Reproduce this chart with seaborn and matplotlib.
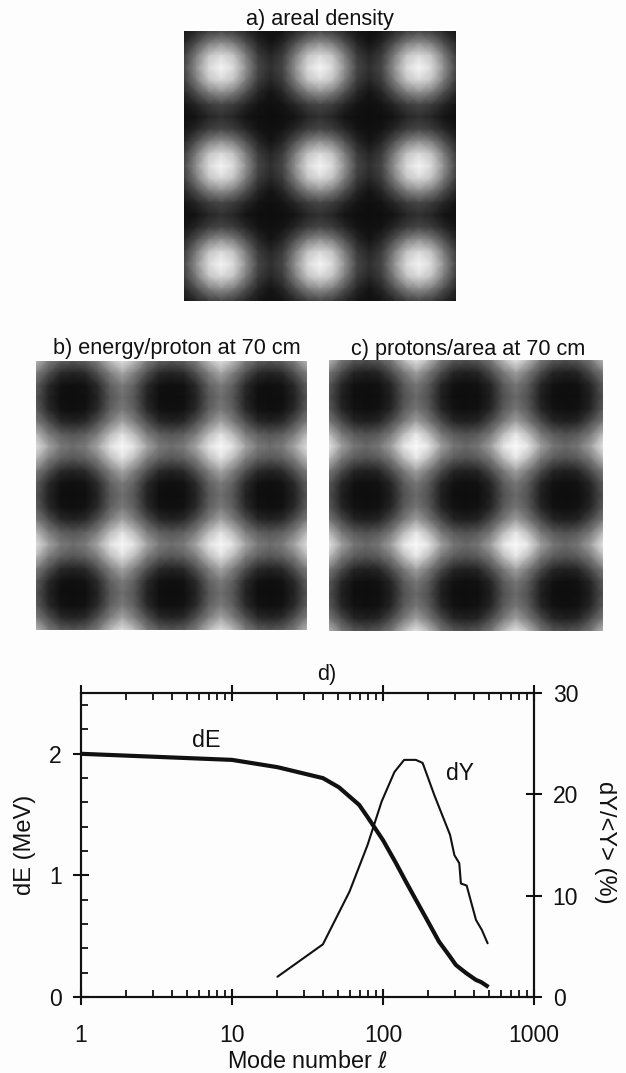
import matplotlib
matplotlib.use("Agg")
import matplotlib.pyplot as plt
from matplotlib.ticker import LogLocator, MultipleLocator, NullFormatter, FixedLocator, FixedFormatter
import seaborn as sns
import pandas as pd

# Panel a: grey level read along rows, by distance from a row of bright spots
a_r0 = [70,145,218,245,218,145,70,48,70,145,218,245,218,145,70,48,70,145,218,245,218,145,70]
a_r1 = [60,125,195,218,195,125,60,38,60,125,195,218,195,125,60,38,60,125,195,218,195,125,60]
a_r2 = [38,80,125,145,125,80,38,20,38,80,125,145,125,80,38,20,38,80,125,145,125,80,38]
a_r3 = [20,38,60,70,60,38,20,15,20,38,60,70,60,38,20,15,20,38,60,70,60,38,20]
a_r4 = [15,20,38,48,38,20,15,14,15,20,38,48,38,20,15,14,15,20,38,48,38,20,15]
grid_a = [a_r3,a_r2,a_r1,a_r0,a_r1,a_r2,a_r3,a_r4,a_r3,a_r2,a_r1,a_r0,a_r1,a_r2,a_r3,a_r4,a_r3,a_r2,a_r1,a_r0,a_r1,a_r2,a_r3]

# Panel b: grey level by distance from a row of dark spots
b_r0 = [85,35,15,14,15,35,85,110,85,35,15,14,15,35,85,110,85,35,15,14,15,35,85]
b_r1 = [95,42,18,15,18,42,95,122,95,42,18,15,18,42,95,122,95,42,18,15,18,42,95]
b_r2 = [125,80,42,35,42,80,125,165,125,80,42,35,42,80,125,165,125,80,42,35,42,80,125]
b_r3 = [185,125,95,85,95,125,185,225,185,125,95,85,95,125,185,225,185,125,95,85,95,125,185]
b_r4 = [225,165,122,110,122,165,225,250,225,165,122,110,122,165,225,250,225,165,122,110,122,165,225]
grid_b = [b_r3,b_r2,b_r1,b_r0,b_r1,b_r2,b_r3,b_r4,b_r3,b_r2,b_r1,b_r0,b_r1,b_r2,b_r3,b_r4,b_r3,b_r2,b_r1,b_r0,b_r1,b_r2,b_r3]

# Panel c
c_r0 = [80,32,15,14,15,32,80,105,80,32,15,14,15,32,80,105,80,32,15,14,15,32,80]
c_r1 = [90,38,18,15,18,38,90,118,90,38,18,15,18,38,90,118,90,38,18,15,18,38,90]
c_r2 = [120,75,38,32,38,75,120,160,120,75,38,32,38,75,120,160,120,75,38,32,38,75,120]
c_r3 = [185,120,90,80,90,120,185,230,185,120,90,80,90,120,185,230,185,120,90,80,90,120,185]
c_r4 = [230,160,118,105,118,160,230,252,230,160,118,105,118,160,230,252,230,160,118,105,118,160,230]
grid_c = [c_r3,c_r2,c_r1,c_r0,c_r1,c_r2,c_r3,c_r4,c_r3,c_r2,c_r1,c_r0,c_r1,c_r2,c_r3,c_r4,c_r3,c_r2,c_r1,c_r0,c_r1,c_r2,c_r3]

# Panel d
mode_dE = [1, 10, 20, 40, 51, 69.5, 79, 100, 122, 142, 165, 193, 235, 273, 304, 355, 413, 446, 500]
dE = [2.0, 1.95, 1.89, 1.80, 1.725, 1.58, 1.48, 1.29, 1.10, 0.947, 0.80, 0.648, 0.455, 0.345, 0.263, 0.197, 0.14, 0.123, 0.082]
mode_dY = [20, 40, 60, 79, 98, 119, 138, 165, 183, 219, 278, 297, 320, 328, 358, 413, 452, 493]
dY = [2.0, 5.2, 10.4, 15.0, 19.3, 22.2, 23.4, 23.4, 23.1, 19.9, 16.0, 14.0, 13.2, 11.2, 11.0, 7.6, 6.6, 5.3]

x_major = [1, 10, 100, 1000]
x_labels = ["1", "10", "100", "1000"]
left_major = [0, 1, 2]
right_major = [0, 10, 20, 30]

sns.set_theme(style="white")
plt.rcParams["font.family"] = ["Liberation Sans", "DejaVu Sans"]
W, H = 626, 1073
fig = plt.figure(figsize=(W / 100, H / 100), dpi=100, facecolor="#fdfdfd")
ink = "#111111"


def box(x0, y0, x1, y1):
    return [x0 / W, 1 - y1 / H, (x1 - x0) / W, (y1 - y0) / H]


def panel(grid, rect, title, title_x, title_y):
    ax = fig.add_axes(box(*rect))
    sns.heatmap(pd.DataFrame(grid), ax=ax, cmap="gray", vmin=0, vmax=255, cbar=False,
                xticklabels=False, yticklabels=False, shading="gouraud")
    ax.set_xlim(0, 22)
    ax.set_ylim(22, 0)
    ax.set_xlabel("")
    ax.set_ylabel("")
    fig.text(title_x / W, 1 - title_y / H, title, ha="center", va="baseline",
             fontsize=15.6, color=ink)


panel(grid_a, (184, 31, 456, 301), "a) areal density", 320, 25)
panel(grid_b, (36, 361, 307, 630), "b) energy/proton at 70 cm", 177, 354)
panel(grid_c, (329, 360, 603, 631), "c) protons/area at 70 cm", 468, 355)

ax = fig.add_axes(box(81, 693, 534, 997))
ax.set_facecolor("none")
sns.lineplot(x=mode_dE, y=dE, ax=ax, color=ink, linewidth=3, estimator=None, sort=False,
             solid_capstyle="butt")
ax.set_xscale("log")
ax.set_xlim(1, 1000)
ax.set_ylim(0, 2.5)
ax.xaxis.set_major_locator(FixedLocator(x_major))
ax.xaxis.set_major_formatter(FixedFormatter(x_labels))
ax.xaxis.set_minor_locator(LogLocator(base=10, subs=[2, 3, 4, 5, 6, 7, 8, 9], numticks=12))
ax.xaxis.set_minor_formatter(NullFormatter())
ax.yaxis.set_major_locator(FixedLocator(left_major))
ax.yaxis.set_minor_locator(MultipleLocator(0.2))
ax.tick_params(axis="x", which="major", direction="inout", length=11.5, width=1.5, top=True,
               bottom=True, labelsize=16.5, pad=14, colors=ink)
ax.tick_params(axis="x", which="minor", direction="in", length=5, width=1.3, top=True,
               bottom=True, colors=ink)
ax.tick_params(axis="y", which="major", direction="inout", length=11.5, width=1.5, left=True,
               labelsize=16.5, pad=8, colors=ink)
ax.tick_params(axis="y", which="minor", direction="in", length=5, width=1.3, left=True, colors=ink)
ax.set_xlabel("Mode number $\\mathit{\\ell}$", fontsize=16.8, color=ink, labelpad=2)
ax.set_ylabel("dE (MeV)", fontsize=17, color=ink)
ax.yaxis.set_label_coords((36 - 81) / 453, 0.5)
fig.text(327 / W, 1 - 680 / H, "d)", fontsize=15.6, color=ink, ha="center", va="baseline")
ax.text(5.4, 2.054, "dE", fontsize=16.8, color=ink, ha="left", va="baseline")

ax2 = ax.twinx()
ax2.set_facecolor("none")
sns.lineplot(x=mode_dY, y=dY, ax=ax2, color=ink, linewidth=1.5, estimator=None, sort=False)
ax2.set_ylim(0, 30)
ax2.yaxis.set_major_locator(FixedLocator(right_major))
ax2.tick_params(axis="y", which="major", direction="inout", length=12, width=1.5, right=True,
                labelsize=16.5, pad=7.5, colors=ink)
ax2.set_ylabel("dY/<Y> (%)", rotation=270, fontsize=17, color=ink, va="center", ha="center")
ax2.yaxis.set_label_coords((605 - 81) / 453, 0.51)
ax2.text(261, 21.4, "dY", fontsize=16.5, color=ink, ha="left", va="baseline")

for a in (ax, ax2):
    for s in a.spines.values():
        s.set_visible(True)
        s.set_linewidth(1.5)
        s.set_color(ink)

fig.savefig("out.png", dpi=100, facecolor=fig.get_facecolor())
